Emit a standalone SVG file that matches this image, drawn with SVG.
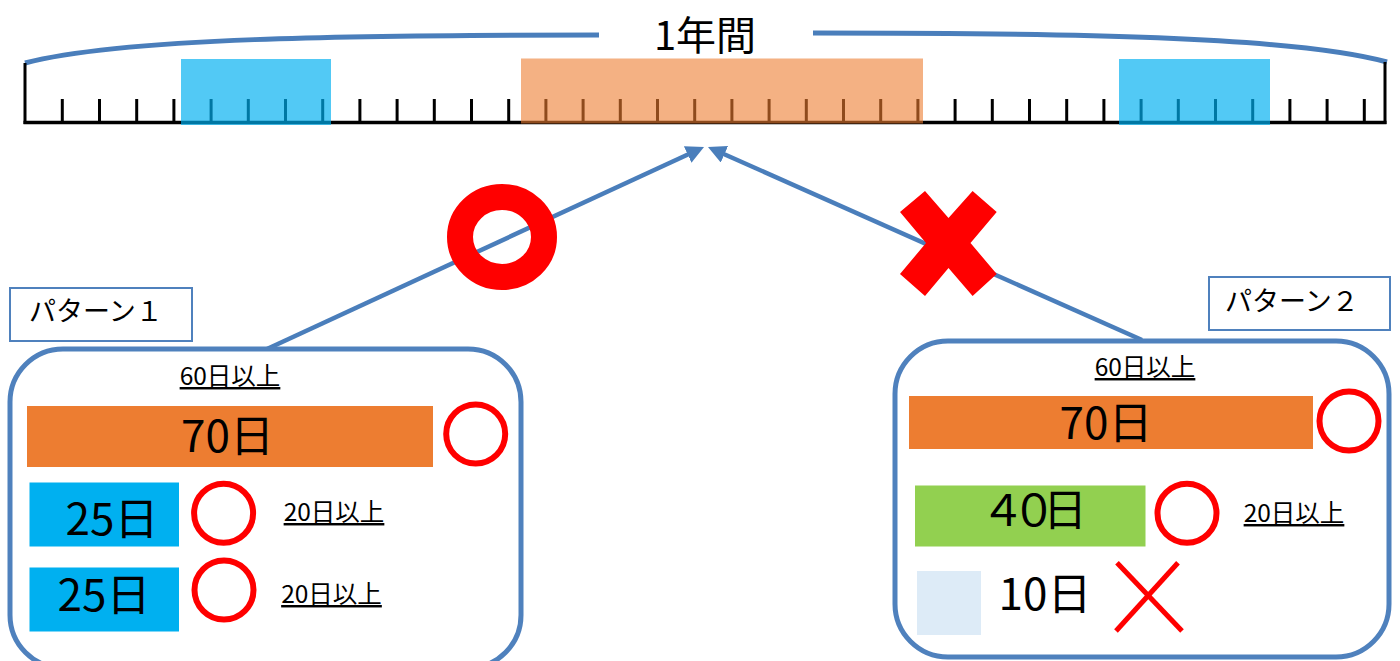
<svg xmlns="http://www.w3.org/2000/svg" width="1400" height="661" viewBox="0 0 1400 661">
<style>
text{font-family:'Noto Sans CJK JP','Noto Sans',sans-serif;fill:#000}
.ul{font-size:24.5px;text-decoration:underline}
.big{font-size:44px}
.lbl{font-size:27px}
.tick{stroke:#000;stroke-width:3}
.frame{fill:none;stroke:#4F81BD;stroke-width:5}
.lab{fill:#fff;stroke:#4F81BD;stroke-width:2}
.ok{fill:none;stroke:#FF0000;stroke-width:6}
.conn{stroke:#4A7EBB;stroke-width:4.5;fill:none}
</style>
<defs>
<marker id="ah" markerUnits="userSpaceOnUse" markerWidth="18" markerHeight="18" refX="2" refY="9" orient="auto">
<path d="M0,0 L18,9 L0,18 z" fill="#4A7EBB"/>
</marker>
</defs>
<rect width="1400" height="661" fill="#fff"/>

<g id="year-ruler">
<path d="M25,63 C120,38 350,35 599,35" fill="none" stroke="#4A7EBB" stroke-width="5"/>
<path d="M813,33 C1062,33 1292,36 1387,62" fill="none" stroke="#4A7EBB" stroke-width="5"/>
<text x="705" y="50" font-size="40" text-anchor="middle">1年間</text>
<line x1="25" y1="63" x2="25" y2="124" class="tick"/>
<line x1="1385" y1="62" x2="1385" y2="124" class="tick"/>
<line x1="23.5" y1="122.5" x2="1386.5" y2="122.5" stroke="#000" stroke-width="3.5"/>
<g class="tick">
<line x1="62.3" y1="99" x2="62.3" y2="122"/><line x1="99.5" y1="99" x2="99.5" y2="122"/><line x1="136.7" y1="99" x2="136.7" y2="122"/><line x1="173.9" y1="99" x2="173.9" y2="122"/><line x1="211.1" y1="99" x2="211.1" y2="122"/><line x1="248.3" y1="99" x2="248.3" y2="122"/><line x1="285.5" y1="99" x2="285.5" y2="122"/><line x1="322.7" y1="99" x2="322.7" y2="122"/><line x1="359.9" y1="99" x2="359.9" y2="122"/><line x1="397.1" y1="99" x2="397.1" y2="122"/><line x1="434.3" y1="99" x2="434.3" y2="122"/><line x1="471.5" y1="99" x2="471.5" y2="122"/>
<line x1="508.7" y1="99" x2="508.7" y2="122"/><line x1="545.9" y1="99" x2="545.9" y2="122"/><line x1="583.1" y1="99" x2="583.1" y2="122"/><line x1="620.3" y1="99" x2="620.3" y2="122"/><line x1="657.5" y1="99" x2="657.5" y2="122"/><line x1="694.7" y1="99" x2="694.7" y2="122"/><line x1="731.9" y1="99" x2="731.9" y2="122"/><line x1="769.1" y1="99" x2="769.1" y2="122"/><line x1="806.3" y1="99" x2="806.3" y2="122"/><line x1="843.5" y1="99" x2="843.5" y2="122"/><line x1="880.7" y1="99" x2="880.7" y2="122"/><line x1="917.9" y1="99" x2="917.9" y2="122"/>
<line x1="955.1" y1="99" x2="955.1" y2="122"/><line x1="992.3" y1="99" x2="992.3" y2="122"/><line x1="1029.5" y1="99" x2="1029.5" y2="122"/><line x1="1066.7" y1="99" x2="1066.7" y2="122"/><line x1="1103.9" y1="99" x2="1103.9" y2="122"/><line x1="1141.1" y1="99" x2="1141.1" y2="122"/><line x1="1178.3" y1="99" x2="1178.3" y2="122"/><line x1="1215.5" y1="99" x2="1215.5" y2="122"/><line x1="1252.7" y1="99" x2="1252.7" y2="122"/><line x1="1289.9" y1="99" x2="1289.9" y2="122"/><line x1="1327.1" y1="99" x2="1327.1" y2="122"/><line x1="1364.3" y1="99" x2="1364.3" y2="122"/>
</g>
<rect x="181" y="59" width="150" height="66" fill="#00B0F0" fill-opacity="0.68"/>
<rect x="521" y="58.5" width="402" height="65" fill="#ED7D31" fill-opacity="0.6"/>
<rect x="1119" y="59" width="151" height="66" fill="#00B0F0" fill-opacity="0.68"/>
</g>

<g id="connectors">
<line x1="267" y1="349" x2="689.5" y2="153.7" class="conn" marker-end="url(#ah)"/>
<line x1="1142" y1="340" x2="722.6" y2="153.5" class="conn" marker-end="url(#ah)"/>
</g>

<g id="mark-ok">
<ellipse cx="502" cy="237" rx="42" ry="40" fill="none" stroke="#FF0000" stroke-width="26"/>
</g>
<g id="mark-ng">
<polygon points="925,191 948.5,218 972.6,191 996.7,212 970.5,243 996.7,274 972.6,296 948.5,268 925,296 900,274 926,243 900,212" fill="#FF0000"/>
</g>

<g id="pattern1-label">
<rect x="10" y="288" width="182" height="53" class="lab"/>
<text x="29" y="321" class="lbl">パターン１</text>
</g>

<g id="pattern1">
<rect x="10" y="349" width="511" height="319" rx="53" ry="53" class="frame"/>
<text x="230" y="385" class="ul" text-anchor="middle">60日以上</text>
<rect x="27" y="406" width="406" height="61" fill="#ED7D31"/>
<text x="227.5" y="452" class="big" text-anchor="middle">70日</text>
<circle cx="475.7" cy="434" r="29.5" class="ok"/>
<rect x="29.5" y="482.5" width="149.5" height="64" fill="#00B0F0"/>
<text x="112" y="535" class="big" text-anchor="middle">25日</text>
<circle cx="223.6" cy="513.3" r="29.5" class="ok"/>
<text x="334" y="521" class="ul" text-anchor="middle">20日以上</text>
<rect x="29.5" y="567.5" width="149.5" height="64" fill="#00B0F0"/>
<text x="104" y="611" class="big" text-anchor="middle">25日</text>
<circle cx="224" cy="590" r="29.5" class="ok"/>
<text x="331.5" y="603" class="ul" text-anchor="middle">20日以上</text>
</g>

<g id="pattern2-label">
<rect x="1209" y="277" width="181" height="53" class="lab"/>
<text x="1225" y="311" class="lbl">パターン２</text>
</g>

<g id="pattern2">
<rect x="895" y="341" width="494" height="316" rx="53" ry="53" class="frame"/>
<text x="1145" y="376" class="ul" text-anchor="middle">60日以上</text>
<rect x="909" y="396" width="404" height="53" fill="#ED7D31"/>
<text x="1106" y="438.5" class="big" text-anchor="middle">70日</text>
<circle cx="1349" cy="421" r="29.5" class="ok"/>
<rect x="915" y="485.5" width="230.5" height="61" fill="#92D050"/>
<text x="1034" y="526" class="big" text-anchor="middle" textLength="106" lengthAdjust="spacing">４０日</text>
<circle cx="1187" cy="513.3" r="29.5" class="ok"/>
<text x="1294" y="522" class="ul" text-anchor="middle">20日以上</text>
<rect x="917" y="571" width="64" height="64" fill="#DDEBF7"/>
<text x="1045" y="610" class="big" text-anchor="middle">10日</text>
<line x1="1117" y1="562.7" x2="1182" y2="631" stroke="#FF0000" stroke-width="5"/>
<line x1="1178" y1="562.7" x2="1116" y2="631" stroke="#FF0000" stroke-width="5"/>
</g>
</svg>
